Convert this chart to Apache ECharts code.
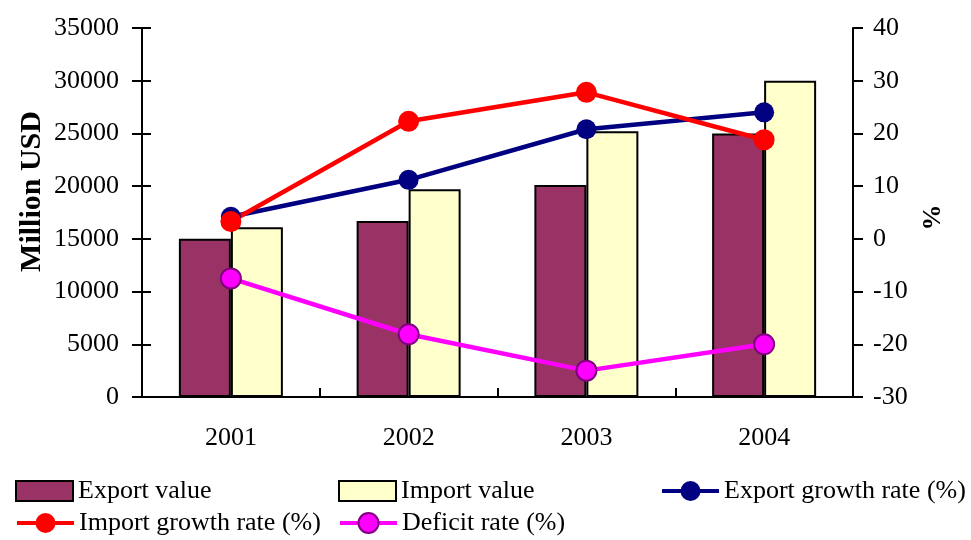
<!DOCTYPE html>
<html>
<head>
<meta charset="utf-8">
<script src="https://cdn.jsdelivr.net/npm/echarts@6/dist/echarts.min.js"></script>
<style>
  html, body { margin: 0; padding: 0; background: #fff; }
  #main { width: 971px; height: 540px; }
</style>
</head>
<body>
<div id="main"></div>
<script>
  // 数据
  var years = ['2001', '2002', '2003', '2004'];
  var exportValue = [15000, 16700, 20100, 25000];
  var importValue = [16100, 19700, 25200, 30000];
  var exportGrowth = [4.2, 11.2, 20.8, 24.0];
  var importGrowth = [3.3, 22.3, 27.8, 18.8];
  var deficitRate = [-7.5, -18.1, -25.0, -20.0];

  var font = 'Liberation Serif';
  var txt = { fontFamily: font, fontSize: 26, color: '#000' };
  var lineBlack = { color: '#000', width: 2 };

  function legendAt(name, left, top, isBar) {
    return {
      data: [isBar ? { name: name, icon: 'rect' } : name],
      left: left, top: top, padding: 0,
      itemWidth: 57, itemHeight: isBar ? 20 : 25, itemGap: 4,
      lineStyle: { width: 4 },
      textStyle: txt
    };
  }

  var chart = echarts.init(document.getElementById('main'));
  chart.setOption({
    backgroundColor: '#fff',
    animation: false,
    // 第二个grid只用来画穿过轴线的内侧刻度
    grid: [
      { left: 142, right: 118, top: 28, bottom: 143 },
      { left: 142, right: 118, top: 28, bottom: 143 }
    ],
    legend: [
      legendAt('Export value', 15, 478, true),
      legendAt('Import value', 338, 478, true),
      legendAt('Export growth rate (%)', 660, 478),
      legendAt('Import growth rate (%)', 15, 510),
      legendAt('Deficit rate (%)', 338, 510)
    ],
    xAxis: [
      {
        type: 'category', data: years, gridIndex: 0,
        axisLine: { onZero: false, lineStyle: lineBlack },
        axisTick: { length: 10, lineStyle: lineBlack },
        axisLabel: { fontFamily: font, fontSize: 26, color: '#000', margin: 28 }
      },
      {
        type: 'category', data: years, gridIndex: 1, position: 'bottom',
        axisLine: { show: true, onZero: false, lineStyle: lineBlack },
        axisTick: { show: true, inside: true, length: 9, lineStyle: lineBlack },
        axisLabel: { show: false }
      }
    ],
    yAxis: [
      {
        type: 'value', min: 0, max: 35000, interval: 5000, gridIndex: 0,
        name: 'Million USD', nameLocation: 'middle', nameGap: 95, nameRotate: 90,
        nameMoveOverlap: false,
        nameTextStyle: { fontFamily: font, fontSize: 30, fontWeight: 'bold', color: '#000', padding: [0, 0, 0, 42] },
        splitLine: { show: false },
        axisLine: { show: true, lineStyle: lineBlack },
        axisTick: { show: true, length: 10, lineStyle: lineBlack },
        axisLabel: {
          fontFamily: font, fontSize: 26, color: '#000', margin: 23,
          formatter: function (v) { return String(v); }
        }
      },
      {
        type: 'value', min: -30, max: 40, interval: 10, position: 'right', gridIndex: 0,
        name: '%', nameLocation: 'middle', nameGap: 67, nameRotate: 90,
        nameMoveOverlap: false,
        nameTextStyle: { fontFamily: font, fontSize: 26, fontWeight: 'bold', color: '#000', padding: [0, 10, 0, 0] },
        splitLine: { show: false },
        axisLine: { show: true, lineStyle: lineBlack },
        axisTick: { show: true, length: 10, lineStyle: lineBlack },
        axisLabel: { fontFamily: font, fontSize: 26, color: '#000', margin: 20 }
      },
      {
        type: 'value', min: 0, max: 35000, interval: 5000, position: 'left', gridIndex: 1,
        splitLine: { show: false },
        axisLine: { show: true, lineStyle: lineBlack },
        axisTick: { show: true, inside: true, length: 9, lineStyle: lineBlack },
        axisLabel: { show: false }
      }
    ],
    series: [
      {
        name: 'Export value', type: 'bar', data: exportValue,
        barWidth: 52, barGap: '0%',
        itemStyle: { color: '#993366', borderColor: '#000', borderWidth: 2 }
      },
      {
        name: 'Import value', type: 'bar', data: importValue,
        barWidth: 52,
        itemStyle: { color: '#FFFFCC', borderColor: '#000', borderWidth: 2 }
      },
      {
        name: 'Export growth rate (%)', type: 'line', yAxisIndex: 1, data: exportGrowth,
        symbol: 'circle', symbolSize: 20,
        lineStyle: { color: '#000080', width: 4.5 },
        itemStyle: { color: '#000080' }
      },
      {
        name: 'Import growth rate (%)', type: 'line', yAxisIndex: 1, data: importGrowth,
        symbol: 'circle', symbolSize: 21,
        lineStyle: { color: '#FF0000', width: 4.5 },
        itemStyle: { color: '#FF0000' }
      },
      {
        name: 'Deficit rate (%)', type: 'line', yAxisIndex: 1, data: deficitRate,
        symbol: 'circle', symbolSize: 20,
        lineStyle: { color: '#FF00FF', width: 4.5 },
        itemStyle: { color: '#FF00FF', borderColor: '#800080', borderWidth: 2 }
      },
      {
        // 空系列，只为让内侧刻度轴显示出来
        name: 'ticks', type: 'line', xAxisIndex: 1, yAxisIndex: 2, data: [], silent: true
      }
    ]
  });
</script>
</body>
</html>
